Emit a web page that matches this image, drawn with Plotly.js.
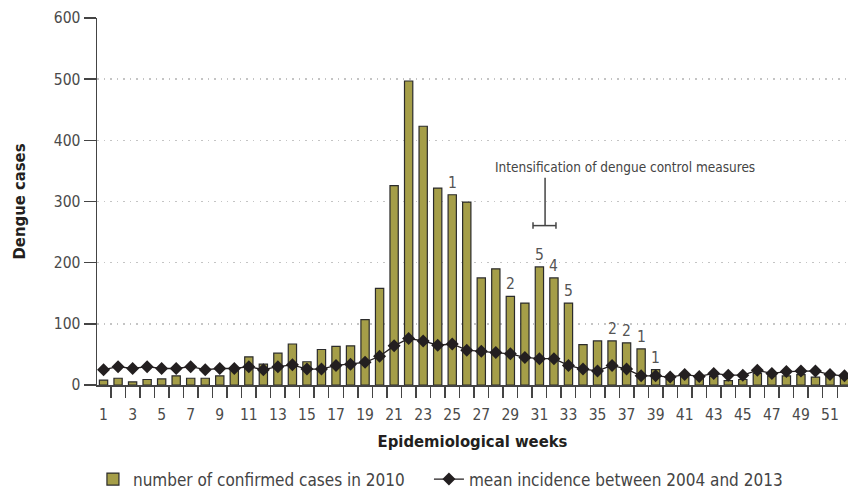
<!DOCTYPE html>
<html>
<head>
<meta charset="utf-8">
<script src="https://cdn.plot.ly/plotly-3.0.1.min.js"></script>
<style>
html,body{margin:0;padding:0;background:#fff;}
#chart{width:848px;height:491px;}
</style>
</head>
<body>
<div id="chart"></div>
<script>
const weeks = Array.from({length: 52}, (_, i) => i + 1);
const confirmed2010 = [8, 11, 5, 9, 10, 15, 11, 11, 15, 26, 46, 34, 52, 67, 38, 58, 63, 64, 107, 158,
  326, 497, 423, 322, 311, 299, 175, 190, 145, 134, 193, 175, 134, 66, 72, 72, 69, 59, 25, 9,
  14, 13, 14, 7, 9, 19, 15, 15, 17, 13, 14, 13];
const mean2004_2013 = [25, 30, 27, 30, 27, 27, 30, 25, 27, 27, 30, 25, 30, 33, 26, 26, 32, 34, 37, 47,
  64, 76, 72, 65, 67, 57, 55, 53, 51, 45, 43, 43, 32, 26, 23, 32, 26, 15, 15, 13,
  17, 14, 19, 16, 16, 24, 19, 22, 23, 23, 17, 15];
const labelWeeks = [25, 29, 31, 32, 33, 36, 37, 38, 39];
const labelTexts = ['1', '2', '5', '4', '5', '2', '2', '1', '1'];
const xTickVals = weeks.filter(w => w % 2 === 1);
const xTickText = xTickVals.map(String);
const xBoundaryTicks = [0.5].concat(weeks.map(w => w + 0.5));
const yTickVals = [0, 100, 200, 300, 400, 500, 600];

const FONT = 'DejaVu Sans Condensed, DejaVu Sans, sans-serif';

const traces = [
  {
    type: 'bar', x: weeks, y: confirmed2010, name: 'number of confirmed cases in 2010',
    width: 0.57, legend: 'legend',
    marker: {color: '#a59e48', line: {color: '#2b2b2b', width: 1.2}},
    hoverinfo: 'skip'
  },
  {
    type: 'scatter', mode: 'lines+markers', x: weeks, y: mean2004_2013,
    name: 'mean incidence between 2004 and 2013', legend: 'legend2',
    line: {color: '#231f20', width: 1.3},
    marker: {symbol: 'diamond', size: 10, color: '#231f20'},
    hoverinfo: 'skip'
  }
];

const annotations = labelWeeks.map((w, i) => ({
  x: w, y: confirmed2010[w - 1], text: labelTexts[i], showarrow: false,
  yanchor: 'bottom', yshift: 1, font: {family: FONT, size: 15.5, color: '#555'}
}));
annotations.push({
  x: 36.9, y: 357, text: 'Intensification of dengue control measures', showarrow: false,
  xanchor: 'center', yanchor: 'middle', font: {family: FONT, size: 13.5, color: '#444'}
});

const bracket = {color: '#444', width: 1.5};
const shapes = [
  {type: 'line', xref: 'x', yref: 'y', x0: 31.39, x1: 31.39, y0: 260.6, y1: 339, line: bracket},
  {type: 'line', xref: 'x', yref: 'y', x0: 30.56, x1: 32.14, y0: 260.6, y1: 260.6, line: bracket},
  {type: 'line', xref: 'x', yref: 'y', x0: 30.56, x1: 30.56, y0: 255.5, y1: 266, line: bracket},
  {type: 'line', xref: 'x', yref: 'y', x0: 32.14, x1: 32.14, y0: 255.5, y1: 266, line: bracket}
];

const legendCommon = {
  orientation: 'h', xref: 'paper', yref: 'container', xanchor: 'left', y: 0.06, yanchor: 'top',
  font: {family: FONT, size: 17, color: '#444'}, bgcolor: 'rgba(0,0,0,0)'
};

const layout = {
  width: 848, height: 491,
  margin: {l: 97, r: 0, t: 18, b: 105.5, pad: 0},
  paper_bgcolor: '#fff', plot_bgcolor: '#fff',
  font: {family: FONT, color: '#444', size: 15.5},
  showlegend: true,
  bargap: 0,
  xaxis: {
    range: [0.55, 52.24], tickmode: 'array', tickvals: xTickVals, ticktext: xTickText,
    ticks: 'outside', ticklen: 11, tickcolor: 'rgba(0,0,0,0)', ticklabelstandoff: 4,
    tickfont: {family: FONT, size: 15.5, color: '#4a4a4a'},
    minor: {tickmode: 'array', tickvals: xBoundaryTicks, ticks: 'outside', ticklen: 11, tickwidth: 1.5, tickcolor: '#444', showgrid: false},
    showline: true, linecolor: '#444', linewidth: 1.5, showgrid: false, zeroline: false,
    title: {text: 'Epidemiological weeks', standoff: 12, font: {family: FONT, size: 16.5, color: '#231f20', weight: 'bold'}}
  },
  yaxis: {
    range: [0, 600], tickmode: 'array', tickvals: yTickVals,
    ticks: 'outside', ticklen: 12, tickwidth: 1.5, tickcolor: '#444',
    tickfont: {family: FONT, size: 15.5, color: '#4a4a4a'},
    showline: true, linecolor: '#444', linewidth: 1.5,
    showgrid: true, gridcolor: '#c4c4c4', gridwidth: 1.5, griddash: '1.5px,5px', zeroline: false,
    title: {text: 'Dengue cases', standoff: 24, font: {family: FONT, size: 16.5, color: '#231f20', weight: 'bold'}}
  },
  legend: Object.assign({}, legendCommon, {x: -0.0054}),
  legend2: Object.assign({}, legendCommon, {x: 0.442}),
  annotations: annotations,
  shapes: shapes
};

Plotly.newPlot('chart', traces, layout, {staticPlot: true, displayModeBar: false});
</script>
</body>
</html>
